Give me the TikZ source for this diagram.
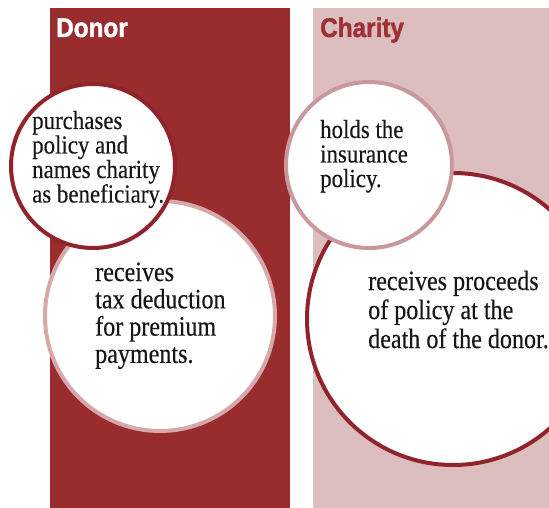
\documentclass[tikz,border=0pt]{standalone}
\usepackage{fontspec}
\setmainfont{Liberation Serif}
\newfontfamily\headfont[FakeStretch=0.9,BoldFeatures={FakeBold=1.6}]{Liberation Sans}
\newfontfamily\smallbody[FakeStretch=0.88,FakeBold=0.3]{Liberation Serif}
\newfontfamily\bigbody[FakeStretch=0.86,FakeBold=0.3]{Liberation Serif}
\definecolor{donorred}{RGB}{153,45,45}
\definecolor{ringred}{RGB}{145,35,42}
\definecolor{charitypink}{RGB}{221,190,191}
\definecolor{ringpink}{RGB}{214,168,170}
\definecolor{ringrose}{RGB}{201,152,157}
\definecolor{headred}{RGB}{158,48,54}
\definecolor{bodytext}{RGB}{25,22,22}
\begin{document}
\begin{tikzpicture}[x=1pt,y=-1pt,
  bubble/.style={circle, fill=white, inner sep=0pt, line width=4pt},
  head/.style={anchor=base west, inner sep=0pt, font=\headfont\bfseries\fontsize{27}{27}\selectfont},
  lbl/.style={anchor=base west, inner sep=0pt, text=bodytext}]
\useasboundingbox (0,0) rectangle (549,508);
\clip (0,0) rectangle (549,508);
% columns
\fill[donorred] (50,8) rectangle (290,508);
\fill[charitypink] (313,8) rectangle (549,508);
% headers
\node[head, text=white] (donor) at (56,37) {Donor};
\node[head, text=headred] (charity) at (320,37) {Charity};
% circles
\node[bubble, draw=ringpink, minimum size=230pt] (c2) at (160,316) {};
\node[bubble, draw=ringred, minimum size=164pt] (c1) at (93,166) {};
\node[bubble, draw=ringred, minimum size=292pt] (c4) at (453,319) {};
\node[bubble, draw=ringrose, minimum size=166pt] (c3) at (369,165) {};
% texts
\node[lbl] (t1) at (32,129) {\smallbody\fontsize{26}{24.5}\selectfont
  \vtop{\hbox{purchases}\hbox{policy and}\hbox{names charity}\hbox{as beneficiary.}}};
\node[lbl] (t3) at (320,138) {\smallbody\fontsize{26}{24.5}\selectfont
  \vtop{\hbox{holds the}\hbox{insurance}\hbox{policy.}}};
\node[lbl] (t2) at (95,281) {\bigbody\fontsize{28}{27.3}\selectfont
  \vtop{\hbox{receives}\hbox{tax deduction}\hbox{for premium}\hbox{payments.}}};
\node[lbl] (t4) at (368,290) {\bigbody\fontsize{28}{29}\selectfont
  \vtop{\hbox{receives proceeds}\hbox{of policy at the}\hbox{death of the donor.}}};
\end{tikzpicture}
\end{document}
